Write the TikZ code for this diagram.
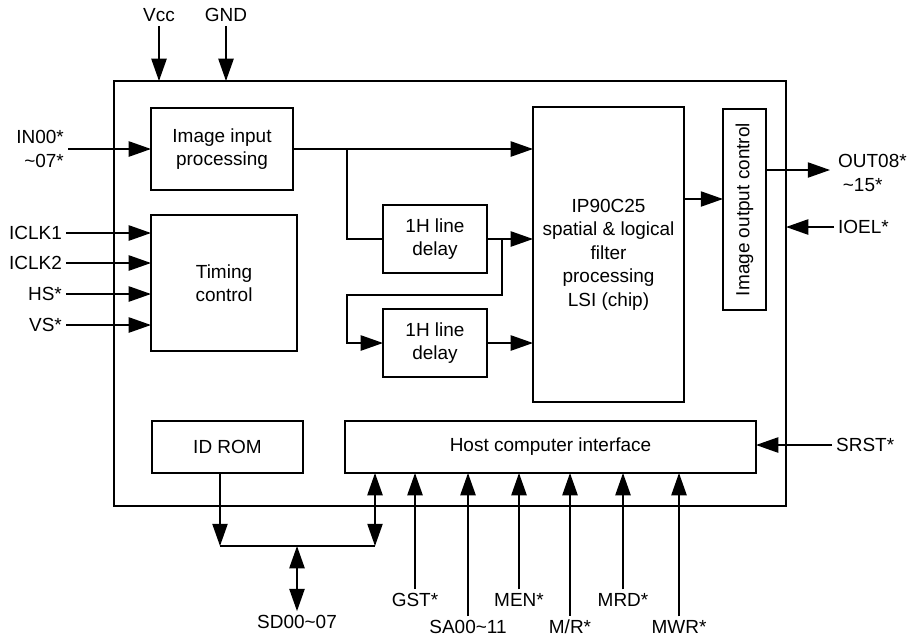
\documentclass[tikz,border=0pt]{standalone}
\usepackage{fontspec}
\setmainfont{Liberation Sans}
\usepackage{graphicx}
\usetikzlibrary{arrows.meta}

\tikzset{
  box/.style 2 args={draw, line width=1.4pt, inner sep=0pt, outer sep=0pt,
    minimum width=#1*0.3mm, minimum height=#2*0.3mm, align=center},
  arr/.style={line width=1.4pt, -{Triangle[length=19pt,width=13pt]}},
  dblarr/.style={line width=1.4pt, {Triangle[length=19pt,width=13pt]}-{Triangle[length=19pt,width=13pt]}},
  line/.style={line width=1.4pt}
}

\begin{document}
\begin{tikzpicture}[x=0.3mm, y=-0.3mm, font=\fontsize{16.2}{20}\selectfont]
    \useasboundingbox (0,0) rectangle (911,638);

    \node [box={672}{425}] (board) at (450,293.5) {};
    \node [box={142}{82}] (inproc) at (222,149) {Image input\\processing};
    \node [box={146}{136}] (timing) at (224,283) {Timing\\control};
    \node [box={104}{68}] (delayA) at (435,239) {1H line\\delay};
    \node [box={104}{68}] (delayB) at (435,343) {1H line\\delay};
    \node [box={151}{295}] (ip) at (608.5,254.5) {IP90C25\\spatial \& logical\\filter\\processing\\LSI (chip)};
    \node [box={43}{201}] (outctl) at (744.5,209.5) {\rotatebox{90}{Image output control}};
    \node [box={151}{52}] (idrom) at (227.5,447) {ID ROM};
    \node [box={411}{52}] (host) at (550.5,447) {Host computer interface};

    \node (vcc) at (159,15) {Vcc};
    \node (gnd) at (226,15) {GND};
    \draw [arr] (vcc.south) -- (vcc.south |- board.north);
    \draw [arr] (gnd.south) -- (gnd.south |- board.north);

    \node [anchor=east, align=right] (in) at (68,149) {IN00*\\\textasciitilde07*};
    \draw [arr] (in.east) -- (inproc.west);

    \node [anchor=east] (iclkA) at (66,233) {ICLK1};
    \node [anchor=east] (iclkB) at (66,263) {ICLK2};
    \node [anchor=east] (hs) at (66,294) {HS*};
    \node [anchor=east] (vs) at (66,325) {VS*};
    \foreach \s in {iclkA,iclkB,hs,vs}
        \draw [arr] (\s.east) -- (timing.west |- \s);

    \coordinate (tapA) at (347,149);
    \coordinate (tapB) at (502,239);
    \coordinate (bend) at (347,295);
    \draw [arr] (inproc.east) -- (inproc.east -| ip.west);
    \draw [line] (tapA) |- (delayA.west);
    \draw [arr] (delayA.east) -- (delayA.east -| ip.west);
    \draw [arr] (tapB) |- (bend) |- (delayB.west);
    \draw [arr] (delayB.east) -- (delayB.east -| ip.west);
    \draw [arr] (ip.east |- 0,199) -- (outctl.west |- 0,199);

    \node [anchor=west, align=left] (out) at (834,173) {OUT08*\\\hspace{0.25em}\textasciitilde15*};
    \coordinate (outend) at (830,170);
    \draw [arr] (outctl.east |- outend) -- (outend);
    \node [anchor=west] (ioel) at (834,227) {IOEL*};
    \draw [arr] (ioel.west) -- (board.east |- ioel);
    \node [anchor=west] (srst) at (832,445) {SRST*};
    \draw [arr] (srst.west) -- (host.east |- srst);

    \coordinate (busL) at (220,546);
    \coordinate (busM) at (297,546);
    \coordinate (busR) at (375,546);
    \node (sd) at (297,622) {SD00\textasciitilde07};
    \draw [arr] (idrom.south -| busL) -- (busL);
    \draw [line] (busL) -- (busR);
    \draw [dblarr] (busR) -- (host.south -| busR);
    \draw [dblarr] (busM) -- (sd.north);

    \node (gst) at (415,600) {GST*};
    \node (sa) at (468,627) {SA00\textasciitilde11};
    \node (men) at (519,600) {MEN*};
    \node (mr) at (570,627) {M/R*};
    \node (mrd) at (623,600) {MRD*};
    \node (mwr) at (679,627) {MWR*};
    \foreach \s in {gst,sa,men,mr,mrd,mwr}
        \draw [arr] (\s.north) -- (host.south -| \s);
\end{tikzpicture}
\end{document}
